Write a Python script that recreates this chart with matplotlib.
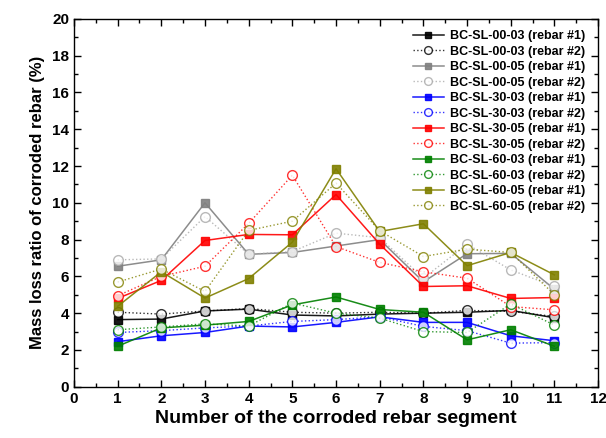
import numpy as np
import matplotlib
matplotlib.use('Agg')
from matplotlib import pyplot as plt
from matplotlib.ticker import MultipleLocator

plt.rcParams['font.family'] = ['Liberation Sans', 'DejaVu Sans']
plt.rcParams['font.weight'] = 'bold'

seg = np.arange(1, 12)

# mass loss ratio (%) per segment, rebar #1 and #2 of each specimen
sl0003_r1 = [3.65, 3.68, 4.12, 4.22, 3.90, 3.85, 3.95, 4.00, 4.05, 4.15, 3.75]
sl0003_r2 = [4.05, 3.95, 4.12, 4.25, 4.05, 4.00, 4.05, 4.00, 4.15, 4.10, 3.82]
sl0005_r1 = [6.55, 6.90, 10.00, 7.20, 7.30, 7.65, 8.00, 5.70, 7.23, 7.25, 5.30]
sl0005_r2 = [6.90, 6.95, 9.25, 7.20, 7.35, 8.35, 8.10, 5.90, 7.75, 6.35, 5.45]
sl3003_r1 = [2.45, 2.77, 2.95, 3.30, 3.25, 3.50, 3.80, 3.50, 3.50, 2.77, 2.50]
sl3003_r2 = [2.95, 3.05, 3.20, 3.30, 3.55, 3.65, 3.80, 3.28, 3.05, 2.37, 2.40]
sl3005_r1 = [4.80, 5.78, 7.95, 8.28, 8.26, 10.45, 7.75, 5.45, 5.49, 4.80, 4.85]
sl3005_r2 = [4.95, 6.00, 6.55, 8.88, 11.50, 7.62, 6.76, 6.25, 5.90, 4.36, 4.18]
sl6003_r1 = [2.20, 3.20, 3.35, 3.55, 4.45, 4.88, 4.20, 4.05, 2.55, 3.10, 2.20]
sl6003_r2 = [3.10, 3.25, 3.42, 3.30, 4.55, 4.00, 3.73, 3.00, 2.95, 4.50, 3.35]
sl6005_r1 = [4.37, 6.25, 4.82, 5.88, 7.86, 11.85, 8.44, 8.86, 6.58, 7.30, 6.08]
sl6005_r2 = [5.69, 6.40, 5.18, 8.50, 9.00, 11.07, 8.48, 7.08, 7.48, 7.30, 5.00]

names = ['BC-SL-00-03', 'BC-SL-00-05', 'BC-SL-30-03', 'BC-SL-30-05',
         'BC-SL-60-03', 'BC-SL-60-05']
r1 = [sl0003_r1, sl0005_r1, sl3003_r1, sl3005_r1, sl6003_r1, sl6005_r1]
r2 = [sl0003_r2, sl0005_r2, sl3003_r2, sl3005_r2, sl6003_r2, sl6005_r2]
col1 = ['#000000', '#808080', '#0000ff', '#ff0000', '#008000', '#808000']
col2 = ['#000000', '#a8a8a8', '#0000ff', '#ff0000', '#008000', '#808000']

fig = plt.figure(figsize=(6.06, 4.38), dpi=100)
ax = fig.add_axes([0.122, 0.117, 0.865, 0.840])

for i in range(6):
    ax.plot(seg, r1[i], '-', color=col1[i], lw=1.1, marker='s', ms=6,
            mfc=col1[i], mec=col1[i], alpha=0.9,
            label=names[i] + ' (rebar #1)')
    l, = ax.plot(seg, r2[i], ':', color=col2[i], lw=1.0, marker='o', ms=7,
                 mfc='white', mec=col2[i], mew=1.0,
                 label=names[i] + ' (rebar #2)')
    l.set_alpha(0.8)

ax.set_xlim(0, 12)
ax.set_ylim(0, 20)
ax.xaxis.set_major_locator(MultipleLocator(1))
ax.xaxis.set_minor_locator(MultipleLocator(0.5))
ax.yaxis.set_major_locator(MultipleLocator(2))
ax.yaxis.set_minor_locator(MultipleLocator(1))
ax.tick_params(which='both', direction='in', top=True, right=True,
               labelsize=11, width=1)
ax.tick_params(which='major', length=5)
ax.tick_params(which='minor', length=3)
for s in ax.spines.values():
    s.set_linewidth(1)

ax.set_xlabel('Number of the corroded rebar segment', fontsize=14,
              fontweight='bold', labelpad=3)
ax.set_ylabel('Mass loss ratio of corroded rebar (%)', fontsize=12,
              fontweight='bold', labelpad=5)

leg = ax.legend(loc='upper right', frameon=False, fontsize=9,
                handlelength=2.5, handletextpad=0.5, labelspacing=0.28,
                borderaxespad=0.2, bbox_to_anchor=(0.99, 0.99),
                markerscale=0.8)

plt.savefig('out.png', dpi=100)
